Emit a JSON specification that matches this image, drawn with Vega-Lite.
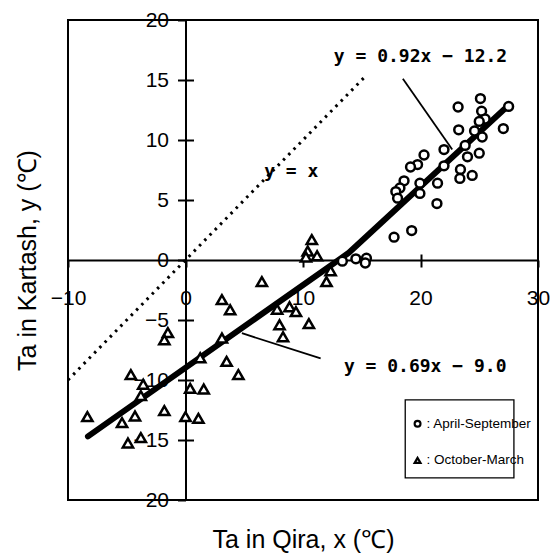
{
  "$schema": "https://vega.github.io/schema/vega-lite/v6.json",
  "width": 470,
  "height": 480,
  "autosize": {"type": "none"},
  "padding": {"left": 68, "top": 20, "right": 18, "bottom": 54},
  "background": "white",
  "config": {
    "view": {"stroke": "black", "strokeWidth": 2},
    "axis": {
      "grid": false,
      "domainColor": "black",
      "tickColor": "black",
      "labelColor": "black",
      "titleColor": "black",
      "labelFont": "Liberation Sans",
      "titleFont": "Liberation Sans",
      "titleFontWeight": "normal"
    }
  },
  "datasets": {
    "diag": [{"x": -10, "y": -10}, {"x": 15.3, "y": 15.3}],
    "fit": [{"x": -8.3, "y": -14.7}, {"x": 13.9, "y": 0.6}, {"x": 27.5, "y": 12.9}],
    "leaders": [
      {"x": 18.5, "y": 15.1, "x2": 22.7, "y2": 9.2},
      {"x": 4.8, "y": -6.1, "x2": 11.5, "y2": -8.2}
    ],
    "labels": [
      {"x": 20.0, "y": 16.9, "text": "y = 0.92x − 12.2"},
      {"x": 20.4, "y": -8.9, "text": "y = 0.69x − 9.0"},
      {"x": 9.0, "y": 7.35, "text": "y = x"}
    ],
    "legendBox": [{"x": 18.7, "x2": 27.95, "y": -11.65, "y2": -18.15}],
    "legendItems": [
      {"x": 19.75, "y": -13.65, "period": "April-September", "tx": 20.5, "text": ": April-September"},
      {"x": 19.75, "y": -16.7, "period": "October-March", "tx": 20.5, "text": ": October-March"}
    ],
    "pts": [
      {"x": 23.2, "y": 12.75, "period": "April-September"},
      {"x": 25.1, "y": 13.45, "period": "April-September"},
      {"x": 25.2, "y": 12.4, "period": "April-September"},
      {"x": 25.5, "y": 11.75, "period": "April-September"},
      {"x": 25.0, "y": 11.55, "period": "April-September"},
      {"x": 27.5, "y": 12.8, "period": "April-September"},
      {"x": 27.05, "y": 10.95, "period": "April-September"},
      {"x": 23.25, "y": 10.85, "period": "April-September"},
      {"x": 24.6, "y": 10.75, "period": "April-September"},
      {"x": 25.25, "y": 10.25, "period": "April-September"},
      {"x": 23.8, "y": 9.55, "period": "April-September"},
      {"x": 22.0, "y": 9.2, "period": "April-September"},
      {"x": 25.0, "y": 8.9, "period": "April-September"},
      {"x": 24.0, "y": 8.6, "period": "April-September"},
      {"x": 20.3, "y": 8.75, "period": "April-September"},
      {"x": 19.75, "y": 7.95, "period": "April-September"},
      {"x": 19.15, "y": 7.75, "period": "April-September"},
      {"x": 22.0, "y": 7.85, "period": "April-September"},
      {"x": 23.4, "y": 7.55, "period": "April-September"},
      {"x": 23.35, "y": 6.8, "period": "April-September"},
      {"x": 24.4, "y": 7.05, "period": "April-September"},
      {"x": 18.6, "y": 6.6, "period": "April-September"},
      {"x": 19.95, "y": 6.4, "period": "April-September"},
      {"x": 21.45, "y": 6.4, "period": "April-September"},
      {"x": 18.25, "y": 6.0, "period": "April-September"},
      {"x": 17.9, "y": 5.7, "period": "April-September"},
      {"x": 19.95, "y": 5.55, "period": "April-September"},
      {"x": 18.05, "y": 5.15, "period": "April-September"},
      {"x": 21.4, "y": 4.7, "period": "April-September"},
      {"x": 17.75, "y": 1.9, "period": "April-September"},
      {"x": 19.25, "y": 2.45, "period": "April-September"},
      {"x": 13.35, "y": -0.1, "period": "April-September"},
      {"x": 14.5, "y": 0.1, "period": "April-September"},
      {"x": 15.4, "y": 0.15, "period": "April-September"},
      {"x": 15.3, "y": -0.25, "period": "April-September"},
      {"x": 10.75, "y": 1.7, "period": "October-March"},
      {"x": 10.4, "y": 0.75, "period": "October-March"},
      {"x": 10.25, "y": 0.25, "period": "October-March"},
      {"x": 11.2, "y": 0.35, "period": "October-March"},
      {"x": 12.35, "y": -0.9, "period": "October-March"},
      {"x": 12.0, "y": -1.8, "period": "October-March"},
      {"x": 6.5, "y": -1.8, "period": "October-March"},
      {"x": 3.1, "y": -3.3, "period": "October-March"},
      {"x": 3.8, "y": -4.15, "period": "October-March"},
      {"x": 7.8, "y": -4.1, "period": "October-March"},
      {"x": 8.85, "y": -3.9, "period": "October-March"},
      {"x": 9.4, "y": -4.3, "period": "October-March"},
      {"x": 8.0, "y": -5.4, "period": "October-March"},
      {"x": 8.3, "y": -6.4, "period": "October-March"},
      {"x": 10.5, "y": -5.3, "period": "October-March"},
      {"x": 3.1, "y": -6.5, "period": "October-March"},
      {"x": 1.25, "y": -8.15, "period": "October-March"},
      {"x": 3.5, "y": -8.45, "period": "October-March"},
      {"x": 4.5, "y": -9.55, "period": "October-March"},
      {"x": -1.5, "y": -6.05, "period": "October-March"},
      {"x": -1.8, "y": -6.65, "period": "October-March"},
      {"x": -4.65, "y": -9.55, "period": "October-March"},
      {"x": -3.6, "y": -10.35, "period": "October-March"},
      {"x": -3.8, "y": -11.3, "period": "October-March"},
      {"x": 0.4, "y": -10.7, "period": "October-March"},
      {"x": 1.55, "y": -10.75, "period": "October-March"},
      {"x": -8.35, "y": -13.05, "period": "October-March"},
      {"x": -5.4, "y": -13.55, "period": "October-March"},
      {"x": -4.3, "y": -13.0, "period": "October-March"},
      {"x": -1.8, "y": -12.55, "period": "October-March"},
      {"x": 0.0, "y": -13.05, "period": "October-March"},
      {"x": 1.1, "y": -13.2, "period": "October-March"},
      {"x": -4.9, "y": -15.25, "period": "October-March"},
      {"x": -3.8, "y": -14.8, "period": "October-March"}
    ]
  },
  "layer": [
    {
      "data": {"name": "diag"},
      "mark": {"type": "line", "color": "black", "strokeWidth": 3, "strokeDash": [2.5, 5]},
      "encoding": {
        "x": {
          "field": "x", "type": "quantitative",
          "scale": {"domain": [-10, 30], "nice": false, "zero": false},
          "axis": {
            "orient": "bottom", "offset": -240, "values": [-10, 0, 10, 20, 30],
            "tickSize": 7, "tickWidth": 2, "domainWidth": 2,
            "labelFontSize": 21, "labelPadding": 20, "labelFlush": false,
            "labelOverlap": false, "labelBound": false, "title": null
          }
        },
        "y": {
          "field": "y", "type": "quantitative",
          "scale": {"domain": [-20, 20], "nice": false, "zero": false},
          "axis": {
            "orient": "left", "offset": -117.5, "values": [-20, -15, -10, -5, 0, 5, 10, 15, 20],
            "tickSize": 8, "tickWidth": 2, "domainWidth": 2,
            "labelFontSize": 21, "labelPadding": 9, "labelFlush": false,
            "labelOverlap": false, "labelBound": false, "title": null
          }
        }
      }
    },
    {
      "data": {"name": "fit"},
      "mark": {"type": "line", "color": "black", "strokeWidth": 6, "strokeCap": "round", "strokeJoin": "round"},
      "encoding": {
        "x": {
          "field": "x", "type": "quantitative",
          "scale": {"domain": [-10, 30], "nice": false, "zero": false},
          "axis": {
            "orient": "top", "offset": -240, "values": [10, 20],
            "tickSize": 6, "tickWidth": 2, "labels": false, "domain": false, "title": null
          }
        },
        "y": {
          "field": "y", "type": "quantitative",
          "scale": {"domain": [-20, 20], "nice": false, "zero": false},
          "axis": {
            "orient": "right", "offset": -352.5, "values": [-15, -10, -5, 5, 10, 15],
            "tickSize": 8, "tickWidth": 2, "labels": false, "domain": false, "title": null
          }
        }
      }
    },
    {
      "data": {"name": "leaders"},
      "mark": {"type": "rule", "color": "black", "strokeWidth": 1.8},
      "encoding": {
        "x": {
          "field": "x", "type": "quantitative",
          "scale": {"domain": [-10, 30], "nice": false, "zero": false},
          "axis": {
            "orient": "bottom", "offset": 0, "domain": false, "ticks": false, "labels": false,
            "title": "Ta in Qira, x (℃)", "titleFontSize": 25, "titlePadding": 27
          }
        },
        "y": {
          "field": "y", "type": "quantitative",
          "scale": {"domain": [-20, 20], "nice": false, "zero": false},
          "axis": {
            "orient": "left", "offset": 0, "domain": false, "ticks": false, "labels": false,
            "title": "Ta in Kartash, y (℃)", "titleFontSize": 25, "titlePadding": 28
          }
        },
        "x2": {"field": "x2"},
        "y2": {"field": "y2"}
      }
    },
    {
      "data": {"name": "pts"},
      "transform": [{"filter": "datum.period == 'April-September'"}],
      "mark": {"type": "point", "fill": "white", "stroke": "black", "strokeWidth": 2.5, "opacity": 1, "fillOpacity": 1, "size": 78},
      "encoding": {
        "x": {"field": "x", "type": "quantitative", "scale": {"domain": [-10, 30], "nice": false, "zero": false}, "axis": null},
        "y": {"field": "y", "type": "quantitative", "scale": {"domain": [-20, 20], "nice": false, "zero": false}, "axis": null},
        "shape": {
          "field": "period", "type": "nominal",
          "scale": {"domain": ["April-September", "October-March"], "range": ["circle", "triangle-up"]},
          "legend": null
        }
      }
    },
    {
      "data": {"name": "pts"},
      "transform": [{"filter": "datum.period == 'October-March'"}],
      "mark": {"type": "point", "fill": "white", "stroke": "black", "strokeWidth": 2.5, "opacity": 1, "fillOpacity": 1, "size": 105},
      "encoding": {
        "x": {"field": "x", "type": "quantitative", "scale": {"domain": [-10, 30], "nice": false, "zero": false}, "axis": null},
        "y": {"field": "y", "type": "quantitative", "scale": {"domain": [-20, 20], "nice": false, "zero": false}, "axis": null},
        "shape": {
          "field": "period", "type": "nominal",
          "scale": {"domain": ["April-September", "October-March"], "range": ["circle", "triangle-up"]},
          "legend": null
        }
      }
    },
    {
      "data": {"name": "legendBox"},
      "mark": {"type": "rect", "fill": "white", "stroke": "black", "strokeWidth": 1.3},
      "encoding": {
        "x": {"field": "x", "type": "quantitative", "scale": {"domain": [-10, 30], "nice": false, "zero": false}, "axis": null},
        "x2": {"field": "x2"},
        "y": {"field": "y", "type": "quantitative", "scale": {"domain": [-20, 20], "nice": false, "zero": false}, "axis": null},
        "y2": {"field": "y2"}
      }
    },
    {
      "data": {"name": "legendItems"},
      "mark": {"type": "point", "fill": "white", "stroke": "black", "strokeWidth": 2.2, "opacity": 1, "fillOpacity": 1, "size": 34},
      "encoding": {
        "x": {"field": "x", "type": "quantitative", "scale": {"domain": [-10, 30], "nice": false, "zero": false}, "axis": null},
        "y": {"field": "y", "type": "quantitative", "scale": {"domain": [-20, 20], "nice": false, "zero": false}, "axis": null},
        "shape": {
          "field": "period", "type": "nominal",
          "scale": {"domain": ["April-September", "October-March"], "range": ["circle", "triangle-up"]},
          "legend": null
        }
      }
    },
    {
      "data": {"name": "legendItems"},
      "mark": {"type": "text", "font": "'Liberation Sans Narrow', 'Liberation Sans'", "fontSize": 13.5, "align": "left", "baseline": "middle", "color": "black"},
      "encoding": {
        "x": {"field": "tx", "type": "quantitative", "scale": {"domain": [-10, 30], "nice": false, "zero": false}, "axis": null},
        "y": {"field": "y", "type": "quantitative", "scale": {"domain": [-20, 20], "nice": false, "zero": false}, "axis": null},
        "text": {"field": "text"}
      }
    },
    {
      "data": {"name": "labels"},
      "mark": {"type": "text", "font": "DejaVu Sans Mono", "fontSize": 18, "fontWeight": "bold", "align": "center", "baseline": "middle", "color": "black"},
      "encoding": {
        "x": {"field": "x", "type": "quantitative", "scale": {"domain": [-10, 30], "nice": false, "zero": false}, "axis": null},
        "y": {"field": "y", "type": "quantitative", "scale": {"domain": [-20, 20], "nice": false, "zero": false}, "axis": null},
        "text": {"field": "text"}
      }
    }
  ],
  "resolve": {"axis": {"x": "independent", "y": "independent"}}
}
